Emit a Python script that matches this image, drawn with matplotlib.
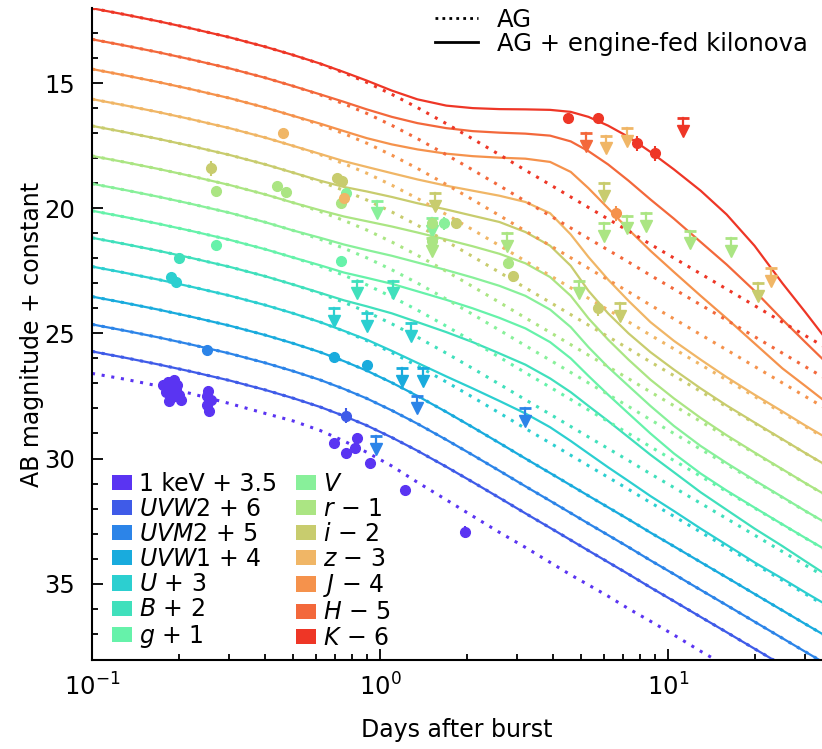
import numpy as np
import matplotlib.pyplot as plt
from matplotlib.patches import Patch
from matplotlib.lines import Line2D

plt.rcParams['font.family'] = ['DejaVu Sans']
plt.rcParams['mathtext.fontset'] = 'dejavusans'

# ---- data ----
bands = ['keV', 'UVW2', 'UVM2', 'UVW1', 'U', 'B', 'g', 'V', 'r', 'i', 'z', 'J', 'H', 'K']
labels = ['1 keV + 3.5', r'$UVW$2 + 6', r'$UVM$2 + 5', r'$UVW$1 + 4', r'$U$ + 3', r'$B$ + 2',
          r'$g$ + 1', r'$V$', r'$r$ − 1', r'$i$ − 2', r'$z$ − 3', r'$J$ − 4',
          r'$H$ − 5', r'$K$ − 6']
colors = ['#5a34f2', '#3f5be8', '#2c84e8', '#19abdd', '#2ccfd0', '#40e0bc', '#66f2aa',
          '#88f09a', '#abe583', '#c8cc6e', '#f0b666', '#f5924c', '#f3683b', '#ee3626']

t_grid = [0.1, 0.13, 0.17, 0.22, 0.3, 0.4, 0.5, 0.62, 0.75, 0.9, 1.1, 1.35, 1.7, 2.1,
          2.6, 3.2, 3.9, 4.6, 5.3, 6.2, 7.3, 8.7, 10.5, 13, 16, 20, 25, 30, 35]

# afterglow shape of the UV/optical/NIR bands (mag below the value at 0.1 d)
ag_shape = [0, 0.25, 0.52, 0.80, 1.16, 1.54, 1.87, 2.22, 2.58, 2.96, 3.44, 3.97, 4.61,
            5.22, 5.85, 6.47, 7.05, 7.54, 7.96, 8.42, 8.90, 9.43, 9.98, 10.61, 11.22,
            11.88, 12.54, 13.08, 13.53]
ag_start = {'UVW2': 25.72, 'UVM2': 24.64, 'UVW1': 23.53, 'U': 22.33, 'B': 21.18,
            'g': 20.10, 'V': 19.02, 'r': 17.91, 'i': 16.71, 'z': 15.64, 'J': 14.44,
            'H': 13.25, 'K': 12.01}
xray_ag = [26.6, 26.83, 27.1, 27.4, 27.8, 28.2, 28.5, 28.88, 29.3, 29.75, 30.3, 30.95,
           31.65, 32.3, 32.95, 33.55, 34.15, 34.65, 35.05, 35.5, 36.0, 36.5, 37.05, 37.7,
           38.3, 38.95, 39.6, 40.1, 40.55]

# AG + engine-fed kilonova
kn = {
    'U': [22.33, 22.58, 22.85, 23.13, 23.49, 23.87, 24.2, 24.55, 24.9, 25.25, 25.7, 26.18,
          26.72, 27.2, 27.7, 28.2, 28.75, 29.3, 29.8, 30.35, 30.9, 31.5, 32.1, 32.8, 33.45,
          34.15, 34.8, 35.35, 35.8],
    'B': [21.18, 21.43, 21.7, 21.98, 22.34, 22.72, 23.05, 23.38, 23.68, 23.92, 24.2, 24.55,
          24.95, 25.35, 25.8, 26.25, 26.8, 27.35, 27.9, 28.5, 29.15, 29.85, 30.55, 31.35,
          32.05, 32.8, 33.5, 34.1, 34.6],
    'g': [20.1, 20.35, 20.62, 20.9, 21.26, 21.64, 21.97, 22.28, 22.57, 22.78, 23.02, 23.32,
          23.66, 24.0, 24.38, 24.8, 25.35, 26.0, 26.7, 27.45, 28.2, 29.0, 29.8, 30.6, 31.28,
          31.96, 32.63, 33.17, 33.62],
    'V': [19.02, 19.27, 19.54, 19.82, 20.18, 20.56, 20.89, 21.18, 21.45, 21.67, 21.9, 22.17,
          22.47, 22.77, 23.1, 23.5, 24.05, 24.75, 25.55, 26.35, 27.1, 27.9, 28.7, 29.5,
          30.18, 30.87, 31.54, 32.09, 32.54],
    'r': [17.91, 18.16, 18.43, 18.71, 19.07, 19.45, 19.78, 20.08, 20.33, 20.52, 20.73, 20.97,
          21.25, 21.52, 21.82, 22.2, 22.75, 23.5, 24.4, 25.25, 26.05, 26.85, 27.6, 28.38,
          29.07, 29.76, 30.43, 30.98, 31.43],
    'i': [16.71, 16.96, 17.23, 17.51, 17.87, 18.25, 18.58, 18.9, 19.15, 19.33, 19.55, 19.8,
          20.05, 20.3, 20.55, 20.95, 21.5, 22.3, 23.3, 24.2, 25.0, 25.75, 26.45, 27.2,
          27.88, 28.56, 29.23, 29.78, 30.23],
    'z': [15.64, 15.89, 16.16, 16.44, 16.8, 17.18, 17.51, 17.83, 18.12, 18.35, 18.6, 18.85,
          19.1, 19.3, 19.5, 19.75, 20.2, 21.05, 21.95, 22.85, 23.7, 24.55, 25.3, 26.05,
          26.75, 27.45, 28.12, 28.68, 29.13],
    'J': [14.44, 14.69, 14.96, 15.24, 15.6, 15.98, 16.31, 16.62, 16.92, 17.2, 17.45, 17.65,
          17.82, 17.92, 17.98, 18.02, 18.15, 18.55, 19.2, 20.0, 20.85, 21.7, 22.55, 23.5,
          24.4, 25.4, 26.4, 27.1, 27.7],
    'H': [13.25, 13.5, 13.77, 14.05, 14.41, 14.79, 15.12, 15.45, 15.75, 16.05, 16.35, 16.6,
          16.8, 16.92, 16.98, 17.02, 17.1, 17.33, 17.72, 18.25, 18.9, 19.65, 20.42, 21.35,
          22.25, 23.3, 24.45, 25.35, 26.1],
    'K': [12.01, 12.26, 12.53, 12.81, 13.17, 13.55, 13.88, 14.22, 14.56, 14.9, 15.3, 15.65,
          15.9, 16.0, 16.04, 16.05, 16.07, 16.15, 16.35, 16.7, 17.15, 17.75, 18.45, 19.3,
          20.25, 21.5, 23.0, 24.15, 25.15],
}

# detections: (days, mag, err)
det = {
    'keV': [(0.176, 27.05, 0.2), (0.18, 27.35, 0.2), (0.183, 26.95, 0.2), (0.186, 27.2, 0.2),
            (0.19, 27.55, 0.2), (0.193, 26.85, 0.2), (0.196, 27.25, 0.2), (0.2, 27.45, 0.2),
            (0.204, 27.65, 0.2), (0.185, 27.7, 0.15), (0.191, 27.4, 0.2), (0.198, 27.05, 0.2),
            (0.25, 27.5, 0.2), (0.25, 27.85, 0.2), (0.255, 28.1, 0.2), (0.26, 27.65, 0.2),
            (0.253, 27.3, 0.2), (0.69, 29.38, 0.2), (0.76, 29.78, 0.2), (0.83, 29.18, 0.2),
            (0.82, 29.58, 0.2), (0.92, 30.18, 0.15), (1.22, 31.25, 0.15), (1.97, 32.93, 0.25)],
    'UVW2': [(0.76, 28.3, 0.3)],
    'UVM2': [(0.25, 25.65, 0.1)],
    'UVW1': [(0.69, 25.95, 0.15), (0.9, 26.25, 0.2)],
    'U': [(0.188, 22.75, 0.15), (0.195, 22.95, 0.15)],
    'B': [(0.2, 22.0, 0.2)],
    'g': [(0.27, 21.45, 0.1), (0.73, 22.1, 0.1)],
    'V': [(0.76, 19.4, 0.1), (1.67, 20.6, 0.25)],
    'r': [(0.27, 19.3, 0.1), (0.44, 19.1, 0.1), (0.47, 19.35, 0.1), (0.73, 19.8, 0.1),
          (1.52, 20.6, 0.15), (1.52, 21.3, 0.15), (2.78, 22.2, 0.15)],
    'i': [(0.26, 18.4, 0.3), (0.71, 18.8, 0.1), (0.74, 18.9, 0.1), (1.83, 20.6, 0.1),
          (2.9, 22.7, 0.2), (5.7, 24.0, 0.3)],
    'z': [(0.46, 17.0, 0.1), (0.75, 19.6, 0.1)],
    'J': [(6.6, 20.2, 0.3)],
    'K': [(4.5, 16.4, 0.1), (5.7, 16.4, 0.1), (7.8, 17.4, 0.3), (9.0, 17.8, 0.3)],
}
# upper limits: (days, mag)
lim = {
    'UVM2': [(0.97, 29.1), (1.35, 27.5), (3.2, 28.0)],
    'UVW1': [(1.19, 26.4), (1.41, 26.4)],
    'U': [(0.69, 24.0), (0.9, 24.2), (1.28, 24.6)],
    'B': [(0.83, 22.9), (1.11, 22.9)],
    'V': [(0.98, 19.7), (1.52, 20.4)],
    'r': [(1.52, 21.2), (2.76, 21.0), (4.9, 22.9), (6.0, 20.6), (7.2, 20.3), (8.4, 20.2),
          (11.9, 20.9), (16.6, 21.2)],
    'i': [(1.55, 19.4), (6.0, 19.0), (6.8, 23.8), (20.5, 23.0)],
    'z': [(6.1, 17.1), (7.2, 16.8), (22.9, 22.4)],
    'H': [(5.2, 17.0)],
    'K': [(11.3, 16.4)],
}

# ---- plot ----
fig = plt.figure(figsize=(8.22, 7.49), dpi=100)
ax = fig.add_axes([92 / 822, 1 - 660 / 749, 730 / 822, 652 / 749])

dots = (0, (1, 2.2))
for b, c in zip(bands, colors):
    if b == 'keV':
        ax.plot(t_grid, xray_ag, color=c, lw=2.2, ls=dots)
    else:
        ag = [ag_start[b] + s for s in ag_shape]
        ax.plot(t_grid, ag, color=c, lw=2.2, ls=dots)
        ax.plot(t_grid, kn.get(b, ag), color=c, lw=1.6)

for b, c in zip(bands, colors):
    for t, m, e in det.get(b, []):
        ax.errorbar(t, m, yerr=e, fmt='o', ms=7, color=c, elinewidth=1.5, capsize=0)
    for t, m in lim.get(b, []):
        ax.plot([t, t], [m, m + 0.45], color=c, lw=1.6)
        ax.plot(t, m, marker='_', ms=9, mew=2, color=c)
        ax.plot(t, m + 0.5, marker='v', ms=8, color=c, mec=c)

ax.set_xscale('log')
ax.set_xlim(0.1, 34.3)
ax.set_ylim(38.05, 12.0)
ax.set_yticks([15, 20, 25, 30, 35])
ax.set_yticks(np.arange(13, 38), minor=True)
ax.spines['top'].set_visible(False)
ax.spines['right'].set_visible(False)
for s in ['left', 'bottom']:
    ax.spines[s].set_linewidth(1.5)
ax.tick_params(which='both', direction='in', width=1.3, labelsize=17.5)
ax.tick_params(which='major', length=8)
ax.tick_params(which='minor', length=4)
ax.tick_params(axis='x', pad=10)
ax.tick_params(axis='y', pad=12)
ax.set_xlabel('Days after burst', fontsize=17, labelpad=12)
ax.set_ylabel('AB magnitude + constant', fontsize=17, labelpad=0)

handles = [Patch(facecolor=c, edgecolor='none') for c in colors]
leg1 = ax.legend(handles, labels, ncol=2, loc='upper left', bbox_to_anchor=(0.027, 0.289),
                 frameon=False, fontsize=17, handlelength=0.85, handleheight=0.62,
                 handletextpad=0.3, labelspacing=0.05, columnspacing=0.8,
                 borderaxespad=0, borderpad=0)
ax.add_artist(leg1)
lh = [Line2D([], [], color='k', lw=2, ls=(0, (1, 1.5))), Line2D([], [], color='k', lw=2)]
ax.legend(lh, ['AG', 'AG + engine-fed kilonova'], loc='upper right',
          bbox_to_anchor=(0.981, 1.0), frameon=False, fontsize=17.5, handlelength=1.75,
          labelspacing=0.0, handletextpad=0.8, borderaxespad=0, borderpad=0)

fig.savefig('out.png', dpi=100)
